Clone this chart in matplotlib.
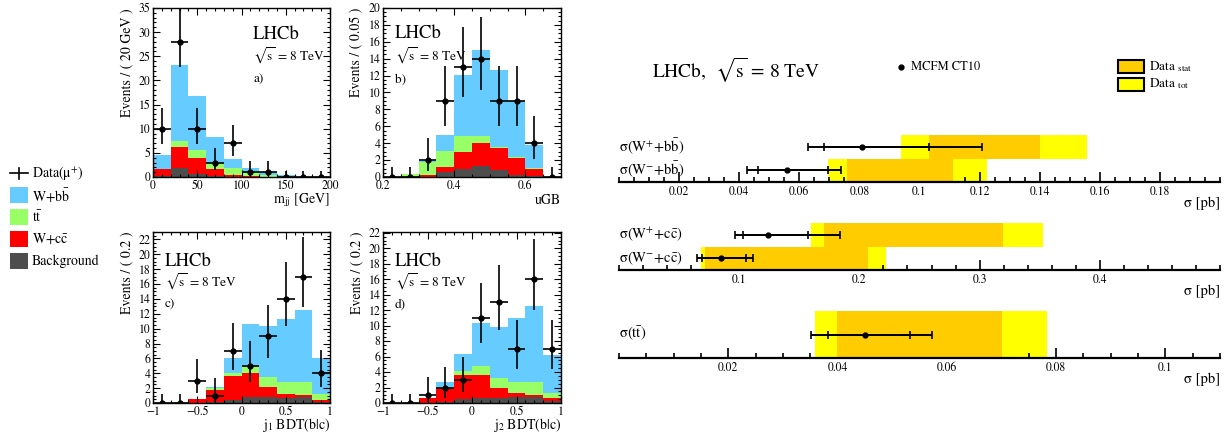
import numpy as np
import matplotlib
matplotlib.use('Agg')
import matplotlib.pyplot as plt
from matplotlib.patches import Rectangle
from matplotlib.lines import Line2D
from matplotlib.ticker import MultipleLocator, FixedLocator, FuncFormatter
import matplotlib.transforms as mtrans

plt.rcParams['font.family'] = ['STIXGeneral', 'DejaVu Serif']
plt.rcParams['mathtext.fontset'] = 'stix'

# ------------------------------------------------------------------ data
# stacked templates: background, W+cc, tt, W+bb (per bin)
mjj_edges = [0, 20, 40, 60, 80, 100, 120, 140, 160, 180, 200]
mjj_bkg = [0.2, 1.8, 0.7, 0.2, 0.1, 0.0, 0.0, 0.0, 0.0, 0.0]
mjj_wcc = [1.4, 4.5, 3.2, 1.5, 0.4, 0.2, 0.1, 0.02, 0.0, 0.0]
mjj_tt = [0.05, 1.2, 1.6, 1.3, 1.3, 0.8, 0.4, 0.08, 0.02, 0.01]
mjj_wbb = [2.85, 15.7, 11.3, 5.3, 2.0, 0.8, 0.5, 0.3, 0.08, 0.04]
mjj_data = [10, 28, 10, 3, 7, 1, 1, 0, 0, 0]

ugb_edges = [0.2, 0.25, 0.3, 0.35, 0.4, 0.45, 0.5, 0.55, 0.6, 0.65, 0.7]
ugb_bkg = [0.0, 0.0, 0.05, 0.6, 0.9, 1.3, 0.8, 0.2, 0.1, 0.0]
ugb_wcc = [0.0, 0.02, 0.15, 0.6, 2.1, 2.7, 2.6, 2.1, 0.9, 0.0]
ugb_tt = [0.02, 0.28, 1.6, 1.9, 1.9, 0.8, 0.2, 0.1, 0.1, 0.0]
ugb_wbb = [0.03, 0.05, 0.1, 1.9, 7.2, 10.2, 9.1, 6.6, 2.7, 0.02]
ugb_data = [0, 0, 2, 9, 13, 14, 9, 9, 4, 0]

bdt_edges = [-1.0, -0.8, -0.6, -0.4, -0.2, 0.0, 0.2, 0.4, 0.6, 0.8, 1.0]
bdt1_bkg = [0.0, 0.0, 0.0, 0.1, 0.4, 0.8, 0.8, 0.7, 0.8, 0.2]
bdt1_wcc = [0.03, 0.05, 0.5, 1.6, 3.2, 3.2, 1.4, 0.5, 0.3, 0.2]
bdt1_tt = [0.0, 0.02, 0.05, 0.3, 0.5, 0.9, 1.3, 1.6, 1.7, 0.8]
bdt1_wbb = [0.02, 0.03, 0.05, 0.2, 2.0, 5.7, 6.9, 8.5, 9.7, 4.8]
bdt1_data = [0, 0, 3, 1, 7, 5, 9, 14, 17, 4]

bdt2_bkg = [0.0, 0.0, 0.0, 0.1, 0.5, 0.6, 0.6, 0.8, 0.8, 0.3]
bdt2_wcc = [0.0, 0.03, 0.65, 1.8, 3.1, 3.0, 1.4, 0.5, 0.2, 0.3]
bdt2_tt = [0.0, 0.01, 0.03, 0.2, 0.6, 1.2, 1.2, 1.4, 1.7, 0.7]
bdt2_wbb = [0.01, 0.01, 0.02, 0.6, 2.1, 5.6, 6.6, 8.3, 9.9, 4.9]
bdt2_data = [0, 0, 1, 2, 3, 11, 13, 7, 16, 7]

# Poisson 68% intervals (count -> (low, high))
poisson_interval = {0: (0.0, 1.15), 1: (0.17, 3.30), 2: (0.71, 4.64), 3: (1.37, 5.92),
                    4: (2.09, 7.16), 5: (2.84, 8.38), 7: (4.42, 10.77), 9: (6.06, 13.15),
                    10: (6.89, 14.33), 11: (7.73, 15.49), 13: (9.43, 17.80),
                    14: (10.30, 18.96), 16: (12.06, 21.23), 17: (12.94, 22.36),
                    28: (22.77, 34.83)}

# cross sections [pb]; rows bottom -> top
wbb_labels = [r'σ(W$^{-}$+b$\mathrm{\bar{b}}$)', r'σ(W$^{+}$+b$\mathrm{\bar{b}}$)']
wbb_stat = [(0.0758, 0.1111), (0.1030, 0.1401)]
wbb_tot = [(0.0694, 0.1224), (0.0939, 0.1558)]
wbb_mcfm = [0.0560, 0.0809]
wbb_mcfm_in = [(0.0461, 0.0694), (0.0681, 0.1030)]
wbb_mcfm_out = [(0.0426, 0.0739), (0.0628, 0.1209)]

wcc_labels = [r'σ(W$^{-}$+c$\mathrm{\bar{c}}$)', r'σ(W$^{+}$+c$\mathrm{\bar{c}}$)']
wcc_stat = [(0.0717, 0.2068), (0.1703, 0.3198)]
wcc_tot = [(0.0681, 0.2222), (0.1598, 0.3530)]
wcc_mcfm = [0.0849, 0.1240]
wcc_mcfm_in = [(0.0694, 0.1056), (0.1033, 0.1572)]
wcc_mcfm_out = [(0.0648, 0.1115), (0.0967, 0.1835)]

tt_labels = [r'σ(t$\mathrm{\bar{t}}$)']
tt_stat = [(0.0399, 0.0701)]
tt_tot = [(0.0358, 0.0783)]
tt_mcfm = [0.0451]
tt_mcfm_in = [(0.0382, 0.0532)]
tt_mcfm_out = [(0.0352, 0.0572)]

wbb_ticks = [0.02, 0.04, 0.06, 0.08, 0.1, 0.12, 0.14, 0.16, 0.18]
wbb_ticklabels = ['0.02', '0.04', '0.06', '0.08', '0.1', '0.12', '0.14', '0.16', '0.18']
wcc_ticks = [0.1, 0.2, 0.3, 0.4]
wcc_ticklabels = ['0.1', '0.2', '0.3', '0.4']
tt_ticks = [0.02, 0.04, 0.06, 0.08, 0.1]
tt_ticklabels = ['0.02', '0.04', '0.06', '0.08', '0.1']

# ------------------------------------------------------------------ style
C_WBB = '#66ccff'
C_TT = '#99ff66'
C_WCC = '#ff0000'
C_BKG = '#4d4d4d'
C_STAT = '#ffcc00'
C_TOT = '#ffff00'

W, H = 1228, 438
fig = plt.figure(figsize=(W / 100, H / 100), dpi=100)


def px_axes(l, t, w, h):
    return fig.add_axes([l / W, 1 - (t + h) / H, w / W, h / H])


def ftext(x, y, s, **kw):
    fig.text(x / W, 1 - y / H, s, **kw)


def short_fmt(v, pos):
    s = '%g' % round(v, 6)
    if s == '-0':
        s = '0'
    return s.replace('-', '\u2212')


def hist_panel(ax, edges, comps, data, ylim, xmaj, xmin, ymaj, ymin, ylabel, xlabel,
               tag, txt_x, txt_y, xlabel_y):
    edges = np.asarray(edges, dtype=float)
    bottom = np.zeros(len(edges) - 1)
    for vals, col in zip(comps, [C_BKG, C_WCC, C_TT, C_WBB]):
        top = bottom + np.asarray(vals, dtype=float)
        ax.stairs(top, edges, baseline=bottom, fill=True, color=col, lw=0)
        bottom = top
    centers = 0.5 * (edges[:-1] + edges[1:])
    half = 0.5 * np.diff(edges)
    lo = [n - poisson_interval[n][0] for n in data]
    hi = [poisson_interval[n][1] - n for n in data]
    ax.errorbar(centers, data, xerr=half, yerr=[lo, hi], fmt='o', color='black',
                ms=3.5, lw=1.2, capsize=0, zorder=5, clip_on=True)
    ax.set_xlim(edges[0], edges[-1])
    ax.set_ylim(*ylim)
    ax.xaxis.set_major_locator(MultipleLocator(xmaj))
    ax.xaxis.set_minor_locator(MultipleLocator(xmin))
    ax.yaxis.set_major_locator(MultipleLocator(ymaj))
    ax.yaxis.set_minor_locator(MultipleLocator(ymin))
    ax.xaxis.set_major_formatter(FuncFormatter(short_fmt))
    ax.yaxis.set_major_formatter(FuncFormatter(short_fmt))
    ax.tick_params(which='both', direction='in', top=True, right=True, labelsize=8.5,
                   pad=2, width=0.8)
    ax.tick_params(axis='x', which='major', pad=2.5)
    ax.tick_params(which='major', length=5)
    ax.tick_params(which='minor', length=2.5)
    for sp in ax.spines.values():
        sp.set_linewidth(1.0)
    ax.text(-0.15, 1.0, ylabel, rotation=90, ha='center', va='top', fontsize=10,
            transform=ax.transAxes)
    ax.text(1.0, xlabel_y, xlabel, ha='right', va='center', fontsize=10,
            transform=ax.transAxes)
    ax.text(txt_x, txt_y[0], 'LHCb', fontsize=13.5, va='center', ha='left',
            transform=ax.transAxes)
    ax.text(txt_x, txt_y[1], r'$\sqrt{\mathrm{s}}$ = 8 TeV', fontsize=9.5, va='center',
            ha='left', transform=ax.transAxes)
    ax.text(txt_x, txt_y[2], tag, fontsize=9.5, va='center', ha='left',
            transform=ax.transAxes)


ax_a = px_axes(153, 8, 177, 169)
hist_panel(ax_a, mjj_edges, [mjj_bkg, mjj_wcc, mjj_tt, mjj_wbb], mjj_data, (0, 35),
           50, 10, 5, 1, 'Events / ( 20 GeV )', r'm$_{\mathrm{jj}}$ [GeV]', 'a)',
           0.565, (0.845, 0.715, 0.575), -0.138)

ax_b = px_axes(383, 8, 178, 169)
hist_panel(ax_b, ugb_edges, [ugb_bkg, ugb_wcc, ugb_tt, ugb_wbb], ugb_data, (0, 20),
           0.2, 0.05, 2, 0.5, 'Events / ( 0.05 )', 'uGB', 'b)',
           0.065, (0.85, 0.715, 0.575), -0.138)

ax_c = px_axes(153, 232, 177, 171)
hist_panel(ax_c, bdt_edges, [bdt1_bkg, bdt1_wcc, bdt1_tt, bdt1_wbb], bdt1_data, (0, 23),
           0.5, 0.1, 2, 0.5, 'Events / ( 0.2 )', r'j$_{1}$ BDT(b$|$c)', 'c)',
           0.065, (0.83, 0.708, 0.577), -0.13)

ax_d = px_axes(383, 232, 178, 171)
hist_panel(ax_d, bdt_edges, [bdt2_bkg, bdt2_wcc, bdt2_tt, bdt2_wbb], bdt2_data, (0, 22.1),
           0.5, 0.1, 2, 0.5, 'Events / ( 0.2 )', r'j$_{2}$ BDT(b$|$c)', 'd)',
           0.065, (0.83, 0.708, 0.577), -0.13)

# ------------------------------------------------------------------ left legend
leg = [(r'W+b$\mathrm{\bar{b}}$', C_WBB), (r't$\mathrm{\bar{t}}$', C_TT),
       (r'W+c$\mathrm{\bar{c}}$', C_WCC), ('Background', C_BKG)]
ftext(32, 173, r'Data(μ$^{+}$)', fontsize=10, va='center', ha='left')
fig.add_artist(Line2D([10 / W, 28 / W], [1 - 173 / H, 1 - 173 / H], color='black', lw=1.2))
fig.add_artist(Line2D([19 / W, 19 / W], [1 - 168 / H, 1 - 179 / H], color='black', lw=1.2))
for i, (lab, col) in enumerate(leg):
    yc = 195 + 22 * i
    fig.add_artist(Rectangle((10 / W, 1 - (yc + 8) / H), 18 / W, 16 / H, facecolor=col,
                             edgecolor='none', transform=fig.transFigure))
    ftext(32, yc, lab, fontsize=10, va='center', ha='left')

# ------------------------------------------------------------------ right panel


def xs_panel(top, nrows, labels, stat, tot, mcfm, m_in, m_out, xmax, ticks, ticklabels,
             minor):
    rowh = 23.3
    ax = px_axes(619, top, 601, rowh * 2)
    ax.set_xlim(0, xmax)
    ax.set_ylim(0, 2)
    band_h = 2.0 / nrows
    for i in range(nrows):
        y0 = i * band_h
        ax.barh(y0, tot[i][1] - tot[i][0], left=tot[i][0], height=band_h, align='edge',
                color=C_TOT, lw=0, zorder=1)
        ax.barh(y0, stat[i][1] - stat[i][0], left=stat[i][0], height=band_h,
                align='edge', color=C_STAT, lw=0, zorder=2)
        yc = y0 + band_h / 2
        ax.errorbar([mcfm[i]], [yc], xerr=[[mcfm[i] - m_out[i][0]], [m_out[i][1] - mcfm[i]]],
                    fmt='o', color='black', ms=3.5, lw=1.4, capsize=2.6, capthick=1.2,
                    zorder=5)
        ax.errorbar([mcfm[i]], [yc], xerr=[[mcfm[i] - m_in[i][0]], [m_in[i][1] - mcfm[i]]],
                    fmt='none', ecolor='black', lw=1.4, capsize=2.6, capthick=1.2,
                    zorder=5)
        trans = mtrans.blended_transform_factory(ax.transAxes, ax.transData)
        ax.text(0.0, yc + 0.02, labels[i], fontsize=10.5, ha='left', va='center',
                transform=trans)
    for s in ['left', 'right', 'top']:
        ax.spines[s].set_visible(False)
    ax.spines['bottom'].set_linewidth(1.6)
    ax.spines['bottom'].set_zorder(6)
    ax.set_yticks([])
    ax.xaxis.set_major_locator(FixedLocator(ticks))
    ax.set_xticklabels(ticklabels)
    ax.xaxis.set_minor_locator(MultipleLocator(minor))
    ax.tick_params(axis='x', which='both', direction='in', labelsize=8.5, pad=3,
                   width=1.2)
    ax.tick_params(axis='x', which='major', length=7)
    ax.tick_params(axis='x', which='minor', length=3.5)
    ax.patch.set_alpha(0)
    ax.text(1.0, -0.45, 'σ [pb]', fontsize=10.5, ha='right', va='center',
            transform=ax.transAxes)
    return ax


xs_panel(182 - 46.6, 2, wbb_labels, wbb_stat, wbb_tot, wbb_mcfm, wbb_mcfm_in, wbb_mcfm_out,
         0.2, wbb_ticks, wbb_ticklabels, 0.005)
xs_panel(270 - 46.6, 2, wcc_labels, wcc_stat, wcc_tot, wcc_mcfm, wcc_mcfm_in, wcc_mcfm_out,
         0.5, wcc_ticks, wcc_ticklabels, 0.02)
xs_panel(358 - 46.6, 1, tt_labels, tt_stat, tt_tot, tt_mcfm, tt_mcfm_in, tt_mcfm_out,
         0.11, tt_ticks, tt_ticklabels, 0.005)

ftext(652, 70, r'LHCb,  $\sqrt{\mathrm{s}}$ = 8 TeV', fontsize=14, va='center', ha='left')
fig.add_artist(Line2D([901 / W], [1 - 67 / H], marker='o', ms=3.5, color='black', lw=0))
ftext(911, 67, 'MCFM CT10', fontsize=9, va='center', ha='left')
for yc, col, sub in [(66.5, C_STAT, 'stat'), (84, C_TOT, 'tot')]:
    fig.add_artist(Rectangle((1118 / W, 1 - (yc + 6.5) / H), 26 / W, 13 / H, facecolor=col,
                             edgecolor='black', lw=1.5, transform=fig.transFigure))
    ftext(1149, yc, r'Data $_{\mathrm{' + sub + '}}$', fontsize=9.5, va='center',
          ha='left')

fig.savefig('out.png', dpi=100)
